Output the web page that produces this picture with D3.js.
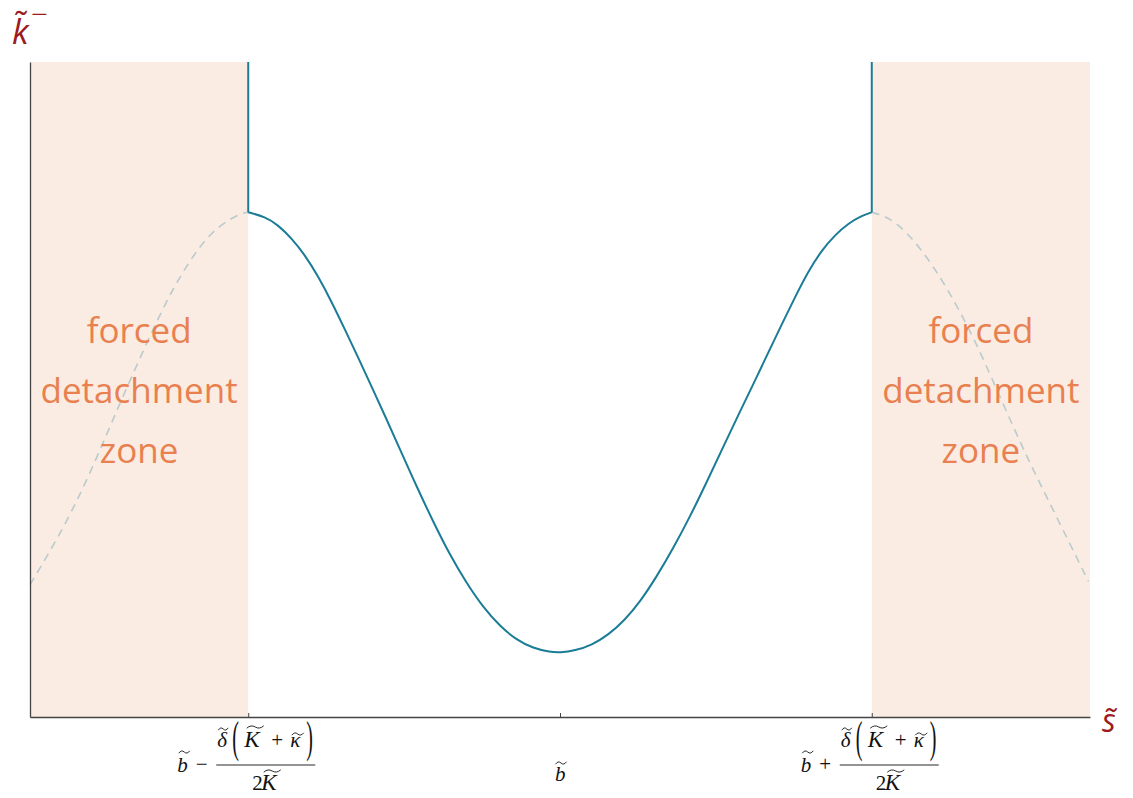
<!DOCTYPE html>
<html>
<head>
<meta charset="utf-8">
<script src="https://cdn.jsdelivr.net/npm/d3@7"></script>
<style>
  html, body { margin: 0; padding: 0; background: #ffffff; }
  svg { display: block; }
</style>
</head>
<body>
<svg id="chart" width="1133" height="798"></svg>
<script>
// ---------------- data ----------------
// solid curve between the two detachment thresholds
const sSolid = [-1.0, -0.946, -0.904, -0.861, -0.818, -0.775, -0.732, -0.690, -0.647, -0.604, -0.561, -0.513, -0.460, -0.406, -0.353, -0.299, -0.246, -0.192, -0.139, -0.086, -0.032, 0.0,
                0.048, 0.102, 0.155, 0.208, 0.257, 0.310, 0.363, 0.417, 0.471, 0.524, 0.577, 0.625, 0.668, 0.711, 0.754, 0.796, 0.839, 0.882, 0.925, 0.968, 1.0];
const kSolid = [7.705, 7.638, 7.511, 7.308, 7.053, 6.722, 6.333, 5.916, 5.485, 5.041, 4.594, 4.085, 3.519, 2.974, 2.473, 2.038, 1.672, 1.382, 1.176, 1.049, 0.992, 0.982,
                1.012, 1.099, 1.252, 1.481, 1.760, 2.142, 2.576, 3.058, 3.592, 4.127, 4.661, 5.130, 5.565, 5.992, 6.412, 6.802, 7.122, 7.359, 7.537, 7.653, 7.705];
// dashed continuation inside the forced detachment zones
const sDashLeft = [-1.70, -1.582, -1.486, -1.422, -1.326, -1.246, -1.155, -1.091, -1.026, -1.0];
const kDashLeft = [2.02, 2.96, 3.95, 4.68, 5.71, 6.52, 7.21, 7.51, 7.69, 7.705];
const sDashRight = [1.0, 1.069, 1.155, 1.240, 1.326, 1.411, 1.497, 1.582, 1.695];
const kDashRight = [7.705, 7.61, 7.18, 6.57, 5.81, 4.89, 3.97, 3.16, 2.07];
// zones and thresholds
const zones = [[-1.7, -1.0], [1.0, 1.7]];
const thresholds = [-1.0, 1.0];
const kThreshold = 7.705;
const tickValues = [-1, 0, 1];
const tickSigns = ["−", null, "+"];
const zoneLines = ["forced", "detachment", "zone"];
const sDomain = [-1.7, 1.7];
const kDomain = [0, 10];

// ---------------- layout ----------------
const svg = d3.select("#chart");
const x = d3.scaleLinear().domain(sDomain).range([30, 1090]);
const y = d3.scaleLinear().domain(kDomain).range([717, 62]);

const teal = "#1a7c96";
const dashCol = "#b9cbcb";
const zoneCol = "#fbece3";
const orange = "#e8804f";
const darkRed = "#9b1b1e";
const axisCol = "#444444";

// zones
svg.append("g").selectAll("rect").data(zones).join("rect")
  .attr("x", d => x(d[0]))
  .attr("width", d => x(d[1]) - x(d[0]))
  .attr("y", y(kDomain[1]))
  .attr("height", y(kDomain[0]) - y(kDomain[1]))
  .attr("fill", zoneCol);

// dashed curves
const line = d3.line().x(d => x(d[0])).y(d => y(d[1])).curve(d3.curveBasis);
const dashL = sDashLeft.map((s, i) => [s, kDashLeft[i]]);
const dashR = sDashRight.map((s, i) => [s, kDashRight[i]]);
svg.append("g").selectAll("path").data([dashL, dashR]).join("path")
  .attr("d", line)
  .attr("fill", "none")
  .attr("stroke", dashCol)
  .attr("stroke-width", 1.6)
  .attr("stroke-dasharray", "8,6");

// zone text
zones.forEach(z => {
  const cx = (x(z[0]) + x(z[1])) / 2;
  const t = svg.append("text")
    .attr("text-anchor", "middle")
    .attr("font-family", "'Open Sans', 'Noto Sans', sans-serif")
    .attr("font-size", 35)
    .attr("fill", orange);
  zoneLines.forEach((w, i) => {
    t.append("tspan").attr("x", cx).attr("y", 343 + i * 60).text(w);
  });
});

// axes
const xAxis = d3.axisBottom(x).tickValues(tickValues).tickSize(-4).tickSizeOuter(0).tickFormat("");
const gx = svg.append("g").attr("transform", `translate(0,${y(kDomain[0])})`).call(xAxis);
gx.select(".domain").attr("stroke", axisCol).attr("stroke-width", 1.3);
gx.selectAll(".tick line").attr("stroke", axisCol).attr("stroke-width", 1);
const yAxis = d3.axisLeft(y).tickValues([]).tickSizeOuter(0);
const gy = svg.append("g").attr("transform", `translate(${x(sDomain[0])},0)`).call(yAxis);
gy.select(".domain").attr("stroke", axisCol).attr("stroke-width", 1.3);

// solid curve
const solid = sSolid.map((s, i) => [s, kSolid[i]]);
svg.append("path").datum(solid)
  .attr("d", line)
  .attr("fill", "none")
  .attr("stroke", teal)
  .attr("stroke-width", 2);
// vertical threshold lines
svg.append("g").selectAll("line").data(thresholds).join("line")
  .attr("x1", d => x(d)).attr("x2", d => x(d))
  .attr("y1", y(kThreshold)).attr("y2", y(kDomain[1]))
  .attr("stroke", teal).attr("stroke-width", 2);

// axis labels
svg.append("text")
  .attr("x", 12).attr("y", 44)
  .attr("font-family", "'Open Sans', 'Noto Sans', sans-serif")
  .attr("font-style", "italic")
  .attr("font-size", 34)
  .attr("fill", darkRed)
  .text("k\u0303");
svg.append("text")
  .attr("transform", "translate(31,21) scale(1.55,1)")
  .attr("font-family", "'Open Sans', 'Noto Sans', sans-serif")
  .attr("font-size", 19)
  .attr("fill", darkRed)
  .text("−");
svg.append("text")
  .attr("x", 1102).attr("y", 732)
  .attr("font-family", "'Open Sans', 'Noto Sans', sans-serif")
  .attr("font-style", "italic")
  .attr("font-size", 32)
  .attr("fill", darkRed)
  .text("s\u0303");

// ---------------- math tick labels ----------------
const mathFont = "'Liberation Serif', 'DejaVu Serif', serif";
function tilde(g, cx, cy, w) {
  g.append("path")
    .attr("d", `M${cx - w / 2},${cy + 1.2} Q${cx - w / 4},${cy - 2.6} ${cx},${cy} T${cx + w / 2},${cy - 1.2}`)
    .attr("fill", "none").attr("stroke", "#111").attr("stroke-width", 0.9);
}
function txt(g, px, py, s, italic, size) {
  return g.append("text").attr("x", px).attr("y", py)
    .attr("font-family", mathFont).attr("font-size", size || 20)
    .attr("font-style", italic ? "italic" : "normal")
    .attr("fill", "#111").text(s);
}
tickValues.forEach((v, i) => {
  const T = x(v);
  const g = svg.append("g");
  const sign = tickSigns[i];
  if (!sign) {
    txt(g, T - 5, 781, "b", true, 21);
    tilde(g, T + 1, 763, 11);
    return;
  }
  txt(g, T - 71, 772, "b", true, 21);
  tilde(g, T - 64, 752, 11);
  txt(g, T - 46.5, 771, sign, false, 21).attr("text-anchor", "middle");
  g.append("line").attr("x1", T - 32).attr("x2", T + 67).attr("y1", 765).attr("y2", 765)
    .attr("stroke", "#111").attr("stroke-width", 0.9);
  // numerator
  txt(g, T - 31, 747, "δ", true, 21);
  tilde(g, T - 25, 729, 10);
  g.append("text").attr("transform", `translate(${T - 16},752) scale(1,2.2)`)
    .attr("font-family", mathFont).attr("font-size", 20).attr("fill", "#111").text("(");
  txt(g, T - 4, 747, "K", true, 23);
  tilde(g, T + 7, 727, 17);
  txt(g, T + 29, 747, "+", false, 21).attr("text-anchor", "middle");
  txt(g, T + 42, 747, "κ", true, 21);
  tilde(g, T + 49.5, 734, 12);
  g.append("text").attr("transform", `translate(${T + 58},752) scale(1,2.2)`)
    .attr("font-family", mathFont).attr("font-size", 20).attr("fill", "#111").text(")");
  // denominator
  txt(g, T + 4, 790, "2", false, 21);
  txt(g, T + 13, 790, "K", true, 23);
  tilde(g, T + 24, 771, 17);
});
</script>
</body>
</html>
